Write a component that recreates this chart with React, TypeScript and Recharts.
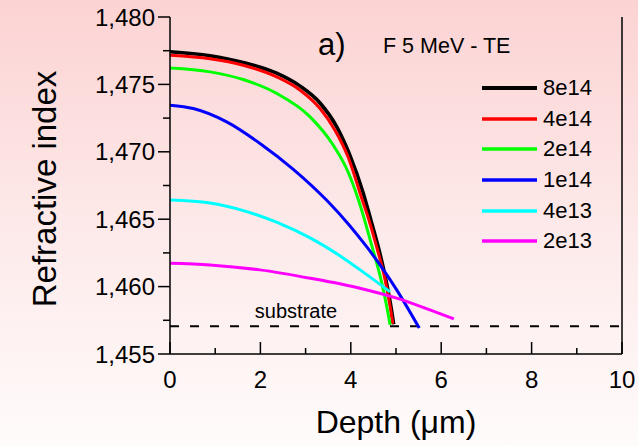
import { LineChart, Line, XAxis, YAxis, ReferenceLine, Legend } from "recharts";

const FONT = "'Liberation Sans', Arial, Helvetica, sans-serif";

// refractive index profiles vs depth (µm), one array per fluence
const f8e14 = [
  { d: 0, n: 1.47742 }, { d: 0.885, n: 1.47713 }, { d: 1.62, n: 1.47663 },
  { d: 2.36, n: 1.47583 }, { d: 2.88, n: 1.47487 }, { d: 3.32, n: 1.47362 },
  { d: 3.69, n: 1.47185 }, { d: 3.98, n: 1.46975 }, { d: 4.27, n: 1.467 },
  { d: 4.44, n: 1.465 }, { d: 4.62, n: 1.4628 }, { d: 4.79, n: 1.4603 },
  { d: 4.9, n: 1.4583 }, { d: 4.95, n: 1.4572 },
];
const f4e14 = [
  { d: 0, n: 1.47716 }, { d: 0.885, n: 1.4769 }, { d: 1.62, n: 1.47642 },
  { d: 2.36, n: 1.47556 }, { d: 2.88, n: 1.47457 }, { d: 3.32, n: 1.47321 },
  { d: 3.65, n: 1.4716 }, { d: 3.94, n: 1.46961 }, { d: 4.24, n: 1.46657 },
  { d: 4.4, n: 1.46495 }, { d: 4.57, n: 1.46296 }, { d: 4.76, n: 1.4605 },
  { d: 4.87, n: 1.45852 }, { d: 4.93, n: 1.45724 },
];
const f2e14 = [
  { d: 0, n: 1.47622 }, { d: 0.885, n: 1.47593 }, { d: 1.62, n: 1.47536 },
  { d: 2.36, n: 1.47433 }, { d: 3.1, n: 1.47259 }, { d: 3.61, n: 1.4705 },
  { d: 3.94, n: 1.4685 }, { d: 4.17, n: 1.46642 }, { d: 4.46, n: 1.46309 },
  { d: 4.68, n: 1.46035 }, { d: 4.81, n: 1.45827 }, { d: 4.87, n: 1.45716 },
];
const f1e14 = [
  { d: 0, n: 1.47346 }, { d: 0.515, n: 1.47321 }, { d: 1.254, n: 1.47222 },
  { d: 1.991, n: 1.47062 }, { d: 2.728, n: 1.4687 }, { d: 3.467, n: 1.4664 },
  { d: 3.982, n: 1.4645 }, { d: 4.35, n: 1.46296 }, { d: 4.646, n: 1.46161 },
  { d: 5.015, n: 1.45976 }, { d: 5.515, n: 1.45692 },
];
const f4e13 = [
  { d: 0, n: 1.46642 }, { d: 0.885, n: 1.4662 }, { d: 1.62, n: 1.46564 },
  { d: 2.37, n: 1.46476 }, { d: 3.1, n: 1.46361 }, { d: 3.83, n: 1.46213 },
  { d: 4.36, n: 1.46087 }, { d: 4.87, n: 1.45961 },
];
const f2e13 = [
  { d: 0, n: 1.46173 }, { d: 0.885, n: 1.46161 }, { d: 1.99, n: 1.46124 },
  { d: 3.1, n: 1.46062 }, { d: 4.2, n: 1.45988 }, { d: 5.015, n: 1.45914 },
  { d: 5.75, n: 1.45827 }, { d: 6.28, n: 1.45761 },
];

const series = [
  { name: "8e14", color: "#000000", width: 3.5, data: f8e14 },
  { name: "4e14", color: "#ff0000", width: 3, data: f4e14 },
  { name: "2e14", color: "#00ff00", width: 3, data: f2e14 },
  { name: "1e14", color: "#0000ff", width: 3, data: f1e14 },
  { name: "4e13", color: "#00ffff", width: 3, data: f4e13 },
  { name: "2e13", color: "#ff00ff", width: 3, data: f2e13 },
];

const substrateIndex = 1.45706;

const xTicks = [0, 1, 2, 3, 4, 5, 6, 7, 8, 9, 10];
const yTicks = [
  1.455, 1.4575, 1.46, 1.4625, 1.465, 1.4675, 1.47, 1.4725, 1.475, 1.4775, 1.48,
];

const isMajorY = (v: number) => Math.round(v * 10000) % 50 === 0;

const XTick = (props: any) => {
  const { x, y, payload } = props;
  const major = payload.value % 2 === 0;
  return (
    <g>
      <line x1={x} x2={x} y1={y} y2={y - (major ? 12 : 6)} stroke="#000" strokeWidth={1.5} />
      {major && (
        <text x={x} y={y + 34} textAnchor="middle" fontSize={24} fontFamily={FONT} fill="#000">
          {payload.value}
        </text>
      )}
    </g>
  );
};

const YTickLeft = (props: any) => {
  const { x, y, payload } = props;
  const major = isMajorY(payload.value);
  return (
    <g>
      <line x1={x} x2={x - (major ? 12 : 7)} y1={y} y2={y} stroke="#000" strokeWidth={1.5} />
      {major && (
        <text x={x - 15} y={y} dy="0.36em" textAnchor="end" fontSize={24} fontFamily={FONT} fill="#000">
          {payload.value.toFixed(3).replace(".", ",")}
        </text>
      )}
    </g>
  );
};

const YTickRight = (props: any) => {
  const { x, y, payload } = props;
  const major = isMajorY(payload.value);
  return <line x1={x} x2={x - (major ? 12 : 6)} y1={y} y2={y} stroke="#000" strokeWidth={1.5} />;
};

// legend keeps the series order (dose from high to low)
const LegendBox = () => (
  <div style={{ fontFamily: FONT, fontSize: 22, color: "#000" }}>
    {series.map((s) => (
      <div key={s.name} style={{ display: "flex", alignItems: "center", height: 30.6 }}>
        <svg width={56} height={6} style={{ display: "block" }}>
          <line x1={0} x2={55} y1={3} y2={3} stroke={s.color} strokeWidth={s.width + 0.5} />
        </svg>
        <span style={{ marginLeft: 5, lineHeight: 1 }}>{s.name}</span>
      </div>
    ))}
  </div>
);

const axisLine = { stroke: "#000", strokeWidth: 1.5 };

export default function App() {
  return (
    <div
      style={{
        width: 638,
        height: 446,
        background: "linear-gradient(to bottom, #fcd3d3 0%, #fde9e9 50%, #fffbfb 100%)",
      }}
    >
      <style>{"body{margin:0}"}</style>
      <LineChart width={638} height={446} margin={{ top: 17, right: 0, bottom: 0, left: 0 }}>
        <XAxis
          xAxisId="bottom"
          dataKey="d"
          type="number"
          domain={[0, 10]}
          ticks={xTicks}
          interval={0}
          height={92}
          tickSize={0}
          tickMargin={0}
          tickLine={false}
          axisLine={axisLine}
          tick={<XTick />}
          allowDataOverflow
        />
        <XAxis
          xAxisId="top"
          orientation="top"
          type="number"
          domain={[0, 10]}
          height={0}
          tick={false}
          tickLine={false}
          axisLine={axisLine}
        />
        <YAxis
          yAxisId="left"
          type="number"
          domain={[1.455, 1.48]}
          ticks={yTicks}
          interval={0}
          width={170}
          tickSize={0}
          tickMargin={0}
          tickLine={false}
          axisLine={axisLine}
          tick={<YTickLeft />}
          allowDataOverflow
        />
        <YAxis
          yAxisId="right"
          orientation="right"
          type="number"
          domain={[1.455, 1.48]}
          ticks={yTicks}
          interval={0}
          width={16}
          tickSize={0}
          tickMargin={0}
          tickLine={false}
          axisLine={axisLine}
          tick={<YTickRight />}
        />
        <ReferenceLine
          xAxisId="bottom"
          yAxisId="left"
          y={substrateIndex}
          stroke="#000"
          strokeWidth={2}
          strokeDasharray="9 11"
        />
        {series.map((s) => (
          <Line
            key={s.name}
            name={s.name}
            data={s.data}
            dataKey="n"
            xAxisId="bottom"
            yAxisId="left"
            type="monotone"
            stroke={s.color}
            strokeWidth={s.width}
            dot={false}
            activeDot={false}
            isAnimationActive={false}
          />
        ))}
        <Legend
          layout="vertical"
          align="center"
          verticalAlign="middle"
          content={<LegendBox />}
          wrapperStyle={{ left: 482, top: 73, width: "auto" }}
        />
        <text x={318} y={55} fontSize={31} fontFamily={FONT} fill="#000">
          a)
        </text>
        <text x={383} y={53} fontSize={21.5} fontFamily={FONT} fill="#000">
          F 5 MeV - TE
        </text>
        <text x={296} y={318} textAnchor="middle" fontSize={20} fontFamily={FONT} fill="#000">
          substrate
        </text>
        <text
          x={56}
          y={189}
          transform="rotate(-90 56 189)"
          textAnchor="middle"
          fontSize={33}
          fontFamily={FONT}
          fill="#000"
        >
          Refractive index
        </text>
        <text x={396} y={433} textAnchor="middle" fontSize={32} fontFamily={FONT} fill="#000">
          Depth (μm)
        </text>
      </LineChart>
    </div>
  );
}
